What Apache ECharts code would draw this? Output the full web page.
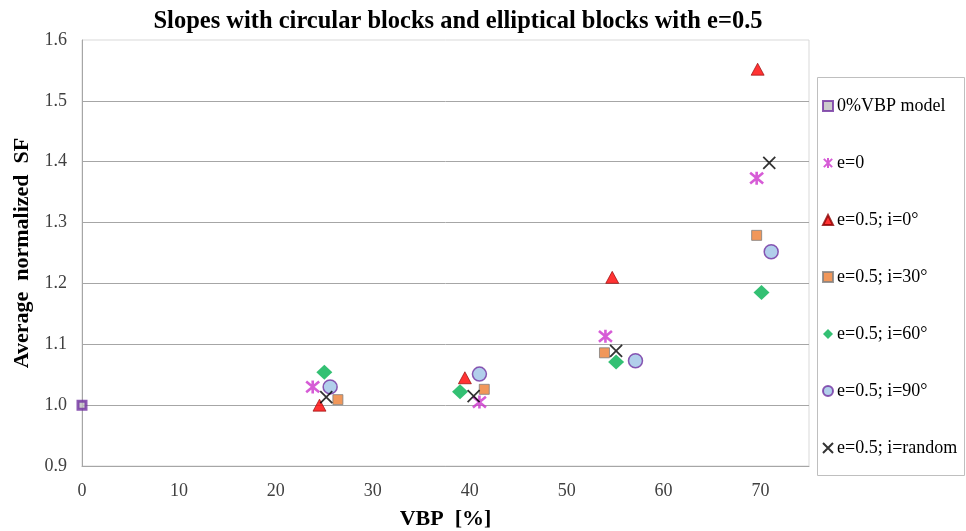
<!DOCTYPE html>
<html>
<head>
<meta charset="utf-8">
<script src="https://cdn.jsdelivr.net/npm/echarts@6/dist/echarts.min.js"></script>
<style>html,body{margin:0;padding:0;background:#fff}#c{width:966px;height:531px}</style>
</head>
<body>
<div id="c"></div>
<script>
const seriesNames = ['0%VBP model','e=0','e=0.5; i=0°','e=0.5; i=30°','e=0.5; i=60°','e=0.5; i=90°','e=0.5; i=random'];
const vbp0   = [[0, 1.0]];
const e0     = [[23.8, 1.030], [41.0, 1.005], [54.0, 1.113], [69.6, 1.373]];
const i0     = [[24.5, 1.000], [39.5, 1.045], [54.7, 1.210], [69.7, 1.552]];
const i30    = [[26.4, 1.009], [41.5, 1.026], [53.9, 1.086], [69.6, 1.279]];
const i60    = [[25.0, 1.054], [39.0, 1.022], [55.1, 1.071], [70.1, 1.185]];
const i90    = [[25.6, 1.030], [41.0, 1.051], [57.1, 1.073], [71.1, 1.252]];
const iRand  = [[25.2, 1.013], [40.4, 1.015], [55.1, 1.089], [70.9, 1.398]];
const xTicks = {min: 0, max: 75, interval: 10};
const yTicks = {min: 0.9, max: 1.6, interval: 0.1};

const serif = '"Liberation Serif", "Times New Roman", serif';
const STAR = 'path://M0,0L10,10M10,0L0,10M5,-1L5,11';
const XMARK = 'path://M0,0L10,10M10,0L0,10';

const chart = echarts.init(document.getElementById('c'));
chart.setOption({
  animation: false,
  backgroundColor: '#fff',
  title: {
    text: 'Slopes with circular blocks and elliptical blocks with e=0.5',
    left: 453, top: 4, textAlign: 'center',
    textStyle: {fontFamily: serif, fontSize: 24.5, fontWeight: 'bold', color: '#000'}
  },
  grid: {left: 82, right: 157, top: 40, bottom: 65, show: true, borderColor: '#d9d9d9', borderWidth: 1,
         outerBoundsMode: 'none', containLabel: false},
  graphic: [{
    type: 'rect', left: 817, top: 77, z: 0,
    shape: {width: 147, height: 398},
    style: {fill: '#fff', stroke: '#bfbfbf', lineWidth: 1}
  }],
  legend: {
    orient: 'vertical', left: 822, top: 97, padding: 0, itemGap: 39,
    itemWidth: 10, itemHeight: 10, itemStyle: {},
    textStyle: {fontFamily: serif, fontSize: 18, color: '#000', padding: [0,0,0,-1]},
    data: seriesNames
  },
  xAxis: {
    type: 'value', min: xTicks.min, max: xTicks.max, interval: xTicks.interval,
    name: 'VBP  [%]', nameLocation: 'middle', nameGap: 42,
    nameTextStyle: {fontFamily: serif, fontSize: 22, fontWeight: 'bold', color: '#000'},
    axisLine: {show: true, lineStyle: {color: '#a6a6a6'}},
    axisTick: {show: false},
    splitLine: {show: false},
    axisLabel: {fontFamily: serif, fontSize: 18, color: '#404040', margin: 16, showMaxLabel: false}
  },
  yAxis: {
    type: 'value', min: yTicks.min, max: yTicks.max, interval: yTicks.interval,
    name: 'Average  normalized  SF', nameLocation: 'middle', nameGap: 48,
    nameTextStyle: {fontFamily: serif, fontSize: 22, fontWeight: 'bold', color: '#000'},
    axisLine: {show: true, lineStyle: {color: '#a6a6a6'}},
    axisTick: {show: false},
    splitLine: {show: true, showMaxLine: false, lineStyle: {color: '#a6a6a6'}},
    axisLabel: {fontFamily: serif, fontSize: 18, color: '#404040', margin: 15, formatter: v => v.toFixed(1)}
  },
  series: [
    {name: seriesNames[0], type: 'scatter', data: vbp0, symbol: 'rect', symbolSize: 8,
     itemStyle: {color: '#bfbfbf', borderColor: '#7030a0', borderWidth: 3}},
    {name: seriesNames[1], type: 'scatter', data: e0, symbol: STAR, symbolSize: 13,
     itemStyle: {color: '#cc33cc', borderColor: '#cc33cc', borderWidth: 2.6}},
    {name: seriesNames[2], type: 'scatter', data: i0, symbol: 'triangle', symbolSize: [13, 12],
     itemStyle: {color: '#ff0000', borderColor: '#8b0000', borderWidth: 0.8}},
    {name: seriesNames[3], type: 'scatter', data: i30, symbol: 'rect', symbolSize: 10,
     itemStyle: {color: '#ed7d31', borderColor: '#7f7f7f', borderWidth: 1}},
    {name: seriesNames[4], type: 'scatter', data: i60, symbol: 'diamond', symbolSize: [16, 15],
     itemStyle: {color: '#00b050', borderColor: '#00b050', borderWidth: 0}},
    {name: seriesNames[5], type: 'scatter', data: i90, symbol: 'circle', symbolSize: 14,
     itemStyle: {color: '#9dc3e6', borderColor: '#7030a0', borderWidth: 1.5}},
    {name: seriesNames[6], type: 'scatter', data: iRand, symbol: XMARK, symbolSize: 12,
     itemStyle: {color: '#000', borderColor: '#000', borderWidth: 1.8}}
  ]
});
</script>
</body>
</html>
